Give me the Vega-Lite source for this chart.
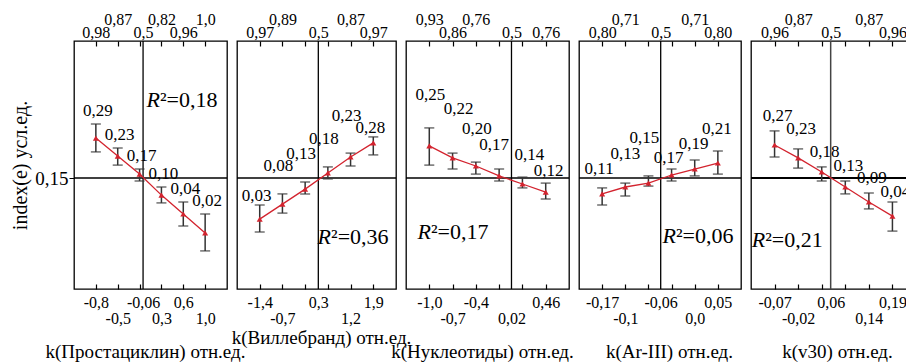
{
"$schema":"https://vega.github.io/schema/vega-lite/v6.json",
"background":"white",
"padding":{"left":10,"top":10,"right":-9,"bottom":0},
"spacing":10,
"bounds":"flush",
"datasets":{
"pts":[
{"panel":"P1","i":1,"v":0.283,"lo":0.237,"hi":0.330,"lab":"0,29"},
{"panel":"P1","i":2,"v":0.223,"lo":0.193,"hi":0.250,"lab":"0,23"},
{"panel":"P1","i":3,"v":0.163,"lo":0.140,"hi":0.180,"lab":"0,17"},
{"panel":"P1","i":4,"v":0.093,"lo":0.067,"hi":0.120,"lab":"0,10"},
{"panel":"P1","i":5,"v":0.030,"lo":-0.010,"hi":0.070,"lab":"0,04"},
{"panel":"P1","i":6,"v":-0.033,"lo":-0.093,"hi":0.030,"lab":"0,02"},
{"panel":"P2","i":1,"v":0.013,"lo":-0.030,"hi":0.060,"lab":"0,03"},
{"panel":"P2","i":2,"v":0.063,"lo":0.033,"hi":0.097,"lab":"0,08"},
{"panel":"P2","i":3,"v":0.113,"lo":0.097,"hi":0.137,"lab":"0,13"},
{"panel":"P2","i":4,"v":0.167,"lo":0.147,"hi":0.187,"lab":"0,18"},
{"panel":"P2","i":5,"v":0.220,"lo":0.190,"hi":0.233,"lab":"0,23"},
{"panel":"P2","i":6,"v":0.267,"lo":0.227,"hi":0.287,"lab":"0,28"},
{"panel":"P3","i":1,"v":0.257,"lo":0.193,"hi":0.317,"lab":"0,25"},
{"panel":"P3","i":2,"v":0.217,"lo":0.180,"hi":0.233,"lab":"0,22"},
{"panel":"P3","i":3,"v":0.190,"lo":0.163,"hi":0.203,"lab":"0,20"},
{"panel":"P3","i":4,"v":0.157,"lo":0.140,"hi":0.180,"lab":"0,17"},
{"panel":"P3","i":5,"v":0.130,"lo":0.117,"hi":0.153,"lab":"0,14"},
{"panel":"P3","i":6,"v":0.103,"lo":0.080,"hi":0.133,"lab":"0,12"},
{"panel":"P4","i":1,"v":0.097,"lo":0.060,"hi":0.117,"lab":"0,11"},
{"panel":"P4","i":2,"v":0.120,"lo":0.090,"hi":0.133,"lab":"0,13"},
{"panel":"P4","i":3,"v":0.133,"lo":0.123,"hi":0.157,"lab":"0,15"},
{"panel":"P4","i":4,"v":0.160,"lo":0.140,"hi":0.180,"lab":"0,17"},
{"panel":"P4","i":5,"v":0.180,"lo":0.157,"hi":0.210,"lab":"0,19"},
{"panel":"P4","i":6,"v":0.200,"lo":0.163,"hi":0.240,"lab":"0,21"},
{"panel":"P5","i":1,"v":0.260,"lo":0.220,"hi":0.307,"lab":"0,27"},
{"panel":"P5","i":2,"v":0.217,"lo":0.183,"hi":0.247,"lab":"0,23"},
{"panel":"P5","i":3,"v":0.170,"lo":0.140,"hi":0.187,"lab":"0,18"},
{"panel":"P5","i":4,"v":0.120,"lo":0.097,"hi":0.140,"lab":"0,13"},
{"panel":"P5","i":5,"v":0.070,"lo":0.047,"hi":0.100,"lab":"0,09"},
{"panel":"P5","i":6,"v":0.023,"lo":-0.027,"hi":0.070,"lab":"0,04"}
],
"refs":[
{"panel":"P1","vx":3.16,"h":0.15,"r2":"0,18"},
{"panel":"P2","vx":3.58,"h":0.15,"r2":"0,36"},
{"panel":"P3","vx":4.53,"h":0.15,"r2":"0,17"},
{"panel":"P4","vx":3.53,"h":0.15,"r2":"0,06"},
{"panel":"P5","vx":3.38,"h":0.15,"r2":"0,21"}
]
},
"hconcat":[
{
"width":153,"height":248,
"resolve":{"axis":{"x":"independent","y":"independent"}},
"layer":[
{"data":{"name":"refs"},"transform":[{"filter":"datum.panel=='P1'"}],"mark":{"type":"rule","color":"#000","strokeWidth":1.3},
"encoding":{"y":{"field":"h","type":"quantitative","scale":{"domain":[-0.22,0.6067],"nice":false,"zero":false},"axis":{"orient":"left","values":[0.15],"labelExpr":"'0,15'","tickSize":5,"ticks":true,"labelPadding":1,"labelFontSize":19,"title":"index(e)  усл.ед.","titleFontSize":20,"titlePadding":4}}}},
{"data":{"name":"refs"},"transform":[{"filter":"datum.panel=='P1'"}],"mark":{"type":"rule","color":"#000","strokeWidth":1.3},
"encoding":{"x":{"field":"vx","type":"quantitative","scale":{"domain":[0,7],"nice":false,"zero":false},"axis":{"orient":"bottom","values":[1,3.16,5],"labelExpr":"datum.value==1?'-0,8':datum.value==3.16?'-0,06':'0,6'","ticks":false,"tickSize":0,"labelPadding":18.5,"labelBaseline":"alphabetic","title":null}}}},
{"data":{"name":"pts"},"transform":[{"filter":"datum.panel=='P1'"}],"mark":{"type":"rule","color":"#333","strokeWidth":1.5},
"encoding":{"x":{"field":"i","type":"quantitative","scale":{"domain":[0,7],"nice":false,"zero":false},"axis":{"orient":"bottom","values":[1,2,3,4,5,6],"offset":-5,"tickSize":5,"tickWidth":1.2,"labels":false,"title":null}},
"y":{"field":"lo","type":"quantitative","scale":{"domain":[-0.22,0.6067],"nice":false,"zero":false},"axis":null},"y2":{"field":"hi"}}},
{"data":{"name":"pts"},"transform":[{"filter":"datum.panel=='P1'"}],"mark":{"type":"tick","orient":"horizontal","size":10,"thickness":1.5,"color":"#333"},
"encoding":{"x":{"field":"i","type":"quantitative","scale":{"domain":[0,7],"nice":false,"zero":false},"axis":{"orient":"top","values":[1,2,3,4,5,6],"offset":-5,"tickSize":5,"tickWidth":1.2,"labels":false,"title":null}},
"y":{"field":"lo","type":"quantitative","scale":{"domain":[-0.22,0.6067],"nice":false,"zero":false},"axis":null}}},
{"data":{"name":"pts"},"transform":[{"filter":"datum.panel=='P1'"}],"mark":{"type":"tick","orient":"horizontal","size":10,"thickness":1.5,"color":"#333"},
"encoding":{"x":{"field":"i","type":"quantitative","scale":{"domain":[0,7],"nice":false,"zero":false},"axis":{"orient":"bottom","values":[2,4,6],"labelExpr":"datum.value==2?'-0,5':datum.value==4?'0,3':'1,0'","ticks":false,"tickSize":0,"labelPadding":34,"labelBaseline":"alphabetic","title":"k(Простациклин) отн.ед.","titlePadding":31,"titleBaseline":"alphabetic","titleX":71}},
"y":{"field":"hi","type":"quantitative","scale":{"domain":[-0.22,0.6067],"nice":false,"zero":false},"axis":null}}},
{"data":{"name":"pts"},"transform":[{"filter":"datum.panel=='P1'"}],"mark":{"type":"line","color":"#d3232e","strokeWidth":1.3},
"encoding":{"x":{"field":"i","type":"quantitative","scale":{"domain":[0,7],"nice":false,"zero":false},"axis":{"orient":"top","values":[2,4,6],"labelExpr":"datum.value==2?'0,87':datum.value==4?'0,82':'1,0'","ticks":false,"tickSize":0,"labelPadding":17,"labelBaseline":"alphabetic","title":null}},
"y":{"field":"v","type":"quantitative","scale":{"domain":[-0.22,0.6067],"nice":false,"zero":false},"axis":null}}},
{"data":{"name":"pts"},"transform":[{"filter":"datum.panel=='P1'"}],"mark":{"type":"point","shape":"triangle-up","filled":true,"size":36,"color":"#d3232e","opacity":1},
"encoding":{"x":{"field":"i","type":"quantitative","scale":{"domain":[0,7],"nice":false,"zero":false},"axis":{"orient":"top","values":[1,3.16,5],"labelExpr":"datum.value==1?'0,98':datum.value==3.16?'0,5':'0,96'","ticks":false,"tickSize":0,"labelPadding":3.5,"labelBaseline":"alphabetic","title":null}},
"y":{"field":"v","type":"quantitative","scale":{"domain":[-0.22,0.6067],"nice":false,"zero":false},"axis":null}}},
{"data":{"name":"pts"},"transform":[{"filter":"datum.panel=='P1'"}],"mark":{"type":"text","fontSize":17,"dx":2,"dy":-13,"align":"center","baseline":"middle"},
"encoding":{"x":{"field":"i","type":"quantitative","scale":{"domain":[0,7],"nice":false,"zero":false},"axis":null},"y":{"field":"hi","type":"quantitative","scale":{"domain":[-0.22,0.6067],"nice":false,"zero":false},"axis":null},"text":{"field":"lab"}}},
{"data":{"name":"refs"},"transform":[{"filter":"datum.panel=='P1'"}],"mark":{"type":"text","fontSize":22,"fontStyle":"italic","align":"right","baseline":"middle"},
"encoding":{"x":{"datum":3.93,"type":"quantitative","scale":{"domain":[0,7],"nice":false,"zero":false},"axis":null},"y":{"datum":0.41,"type":"quantitative","scale":{"domain":[-0.22,0.6067],"nice":false,"zero":false},"axis":null},"text":{"value":"R"}}},
{"data":{"name":"refs"},"transform":[{"filter":"datum.panel=='P1'"}],"mark":{"type":"text","fontSize":22,"align":"left","baseline":"middle"},
"encoding":{"x":{"datum":3.93,"type":"quantitative","scale":{"domain":[0,7],"nice":false,"zero":false},"axis":null},"y":{"datum":0.41,"type":"quantitative","scale":{"domain":[-0.22,0.6067],"nice":false,"zero":false},"axis":null},"text":{"value":"²="}}},
{"data":{"name":"refs"},"transform":[{"filter":"datum.panel=='P1'"}],"mark":{"type":"text","fontSize":22,"align":"left","baseline":"middle","dx":19},
"encoding":{"x":{"datum":3.93,"type":"quantitative","scale":{"domain":[0,7],"nice":false,"zero":false},"axis":null},"y":{"datum":0.41,"type":"quantitative","scale":{"domain":[-0.22,0.6067],"nice":false,"zero":false},"axis":null},"text":{"field":"r2"}}}
]
},
{
"width":159,"height":248,
"resolve":{"axis":{"x":"independent","y":"independent"}},
"layer":[
{"data":{"name":"refs"},"transform":[{"filter":"datum.panel=='P2'"}],"mark":{"type":"rule","color":"#000","strokeWidth":1.3},
"encoding":{"y":{"field":"h","type":"quantitative","scale":{"domain":[-0.22,0.6067],"nice":false,"zero":false},"axis":null}}},
{"data":{"name":"refs"},"transform":[{"filter":"datum.panel=='P2'"}],"mark":{"type":"rule","color":"#000","strokeWidth":1.3},
"encoding":{"x":{"field":"vx","type":"quantitative","scale":{"domain":[0,7],"nice":false,"zero":false},"axis":{"orient":"bottom","values":[1,3.58,6],"labelExpr":"datum.value==1?'-1,4':datum.value==3.58?'0,3':'1,9'","ticks":false,"tickSize":0,"labelPadding":18.5,"labelBaseline":"alphabetic","title":null}}}},
{"data":{"name":"pts"},"transform":[{"filter":"datum.panel=='P2'"}],"mark":{"type":"rule","color":"#333","strokeWidth":1.5},
"encoding":{"x":{"field":"i","type":"quantitative","scale":{"domain":[0,7],"nice":false,"zero":false},"axis":{"orient":"bottom","values":[1,2,3,4,5,6],"offset":-5,"tickSize":5,"tickWidth":1.2,"labels":false,"title":null}},
"y":{"field":"lo","type":"quantitative","scale":{"domain":[-0.22,0.6067],"nice":false,"zero":false},"axis":null},"y2":{"field":"hi"}}},
{"data":{"name":"pts"},"transform":[{"filter":"datum.panel=='P2'"}],"mark":{"type":"tick","orient":"horizontal","size":10,"thickness":1.5,"color":"#333"},
"encoding":{"x":{"field":"i","type":"quantitative","scale":{"domain":[0,7],"nice":false,"zero":false},"axis":{"orient":"top","values":[1,2,3,4,5,6],"offset":-5,"tickSize":5,"tickWidth":1.2,"labels":false,"title":null}},
"y":{"field":"lo","type":"quantitative","scale":{"domain":[-0.22,0.6067],"nice":false,"zero":false},"axis":null}}},
{"data":{"name":"pts"},"transform":[{"filter":"datum.panel=='P2'"}],"mark":{"type":"tick","orient":"horizontal","size":10,"thickness":1.5,"color":"#333"},
"encoding":{"x":{"field":"i","type":"quantitative","scale":{"domain":[0,7],"nice":false,"zero":false},"axis":{"orient":"bottom","values":[2,5],"labelExpr":"datum.value==2?'-0,7':'1,2'","ticks":false,"tickSize":0,"labelPadding":34,"labelBaseline":"alphabetic","title":"k(Виллебранд) отн.ед.","titlePadding":17,"titleBaseline":"alphabetic","titleX":84}},
"y":{"field":"hi","type":"quantitative","scale":{"domain":[-0.22,0.6067],"nice":false,"zero":false},"axis":null}}},
{"data":{"name":"pts"},"transform":[{"filter":"datum.panel=='P2'"}],"mark":{"type":"line","color":"#d3232e","strokeWidth":1.3},
"encoding":{"x":{"field":"i","type":"quantitative","scale":{"domain":[0,7],"nice":false,"zero":false},"axis":{"orient":"top","values":[2,5],"labelExpr":"datum.value==2?'0,89':'0,87'","ticks":false,"tickSize":0,"labelPadding":17,"labelBaseline":"alphabetic","title":null}},
"y":{"field":"v","type":"quantitative","scale":{"domain":[-0.22,0.6067],"nice":false,"zero":false},"axis":null}}},
{"data":{"name":"pts"},"transform":[{"filter":"datum.panel=='P2'"}],"mark":{"type":"point","shape":"triangle-up","filled":true,"size":36,"color":"#d3232e","opacity":1},
"encoding":{"x":{"field":"i","type":"quantitative","scale":{"domain":[0,7],"nice":false,"zero":false},"axis":{"orient":"top","values":[1,3.58,6],"labelExpr":"datum.value==1?'0,97':datum.value==3.58?'0,5':'0,97'","ticks":false,"tickSize":0,"labelPadding":3.5,"labelBaseline":"alphabetic","title":null}},
"y":{"field":"v","type":"quantitative","scale":{"domain":[-0.22,0.6067],"nice":false,"zero":false},"axis":null}}},
{"data":{"name":"pts"},"transform":[{"filter":"datum.panel=='P2' && (datum.i==1 || datum.i==6)"}],"mark":{"type":"text","fontSize":17,"dx":-3,"dy":-9,"align":"center","baseline":"middle"},
"encoding":{"x":{"field":"i","type":"quantitative","scale":{"domain":[0,7],"nice":false,"zero":false},"axis":null},"y":{"field":"hi","type":"quantitative","scale":{"domain":[-0.22,0.6067],"nice":false,"zero":false},"axis":null},"text":{"field":"lab"}}},
{"data":{"name":"pts"},"transform":[{"filter":"datum.panel=='P2' && datum.i>1 && datum.i<5"}],"mark":{"type":"text","fontSize":17,"dx":-4,"dy":-28,"align":"center","baseline":"middle"},
"encoding":{"x":{"field":"i","type":"quantitative","scale":{"domain":[0,7],"nice":false,"zero":false},"axis":null},"y":{"field":"hi","type":"quantitative","scale":{"domain":[-0.22,0.6067],"nice":false,"zero":false},"axis":null},"text":{"field":"lab"}}},
{"data":{"name":"pts"},"transform":[{"filter":"datum.panel=='P2' && datum.i==5"}],"mark":{"type":"text","fontSize":17,"dx":-4,"dy":-37,"align":"center","baseline":"middle"},
"encoding":{"x":{"field":"i","type":"quantitative","scale":{"domain":[0,7],"nice":false,"zero":false},"axis":null},"y":{"field":"hi","type":"quantitative","scale":{"domain":[-0.22,0.6067],"nice":false,"zero":false},"axis":null},"text":{"field":"lab"}}},
{"data":{"name":"refs"},"transform":[{"filter":"datum.panel=='P2'"}],"mark":{"type":"text","fontSize":22,"fontStyle":"italic","align":"right","baseline":"middle"},
"encoding":{"x":{"datum":4.14,"type":"quantitative","scale":{"domain":[0,7],"nice":false,"zero":false},"axis":null},"y":{"datum":-0.047,"type":"quantitative","scale":{"domain":[-0.22,0.6067],"nice":false,"zero":false},"axis":null},"text":{"value":"R"}}},
{"data":{"name":"refs"},"transform":[{"filter":"datum.panel=='P2'"}],"mark":{"type":"text","fontSize":22,"align":"left","baseline":"middle"},
"encoding":{"x":{"datum":4.14,"type":"quantitative","scale":{"domain":[0,7],"nice":false,"zero":false},"axis":null},"y":{"datum":-0.047,"type":"quantitative","scale":{"domain":[-0.22,0.6067],"nice":false,"zero":false},"axis":null},"text":{"value":"²="}}},
{"data":{"name":"refs"},"transform":[{"filter":"datum.panel=='P2'"}],"mark":{"type":"text","fontSize":22,"align":"left","baseline":"middle","dx":19},
"encoding":{"x":{"datum":4.14,"type":"quantitative","scale":{"domain":[0,7],"nice":false,"zero":false},"axis":null},"y":{"datum":-0.047,"type":"quantitative","scale":{"domain":[-0.22,0.6067],"nice":false,"zero":false},"axis":null},"text":{"field":"r2"}}}
]
},
{
"width":163,"height":248,
"resolve":{"axis":{"x":"independent","y":"independent"}},
"layer":[
{"data":{"name":"refs"},"transform":[{"filter":"datum.panel=='P3'"}],"mark":{"type":"rule","color":"#000","strokeWidth":1.3},
"encoding":{"y":{"field":"h","type":"quantitative","scale":{"domain":[-0.22,0.6067],"nice":false,"zero":false},"axis":null}}},
{"data":{"name":"refs"},"transform":[{"filter":"datum.panel=='P3'"}],"mark":{"type":"rule","color":"#000","strokeWidth":1.3},
"encoding":{"x":{"field":"vx","type":"quantitative","scale":{"domain":[0,7],"nice":false,"zero":false},"axis":{"orient":"bottom","values":[1,3,6],"labelExpr":"datum.value==1?'-1,0':datum.value==3?'-0,4':'0,46'","ticks":false,"tickSize":0,"labelPadding":18.5,"labelBaseline":"alphabetic","title":null}}}},
{"data":{"name":"pts"},"transform":[{"filter":"datum.panel=='P3'"}],"mark":{"type":"rule","color":"#333","strokeWidth":1.5},
"encoding":{"x":{"field":"i","type":"quantitative","scale":{"domain":[0,7],"nice":false,"zero":false},"axis":{"orient":"bottom","values":[1,2,3,4,5,6],"offset":-5,"tickSize":5,"tickWidth":1.2,"labels":false,"title":null}},
"y":{"field":"lo","type":"quantitative","scale":{"domain":[-0.22,0.6067],"nice":false,"zero":false},"axis":null},"y2":{"field":"hi"}}},
{"data":{"name":"pts"},"transform":[{"filter":"datum.panel=='P3'"}],"mark":{"type":"tick","orient":"horizontal","size":10,"thickness":1.5,"color":"#333"},
"encoding":{"x":{"field":"i","type":"quantitative","scale":{"domain":[0,7],"nice":false,"zero":false},"axis":{"orient":"top","values":[1,2,3,4,5,6],"offset":-5,"tickSize":5,"tickWidth":1.2,"labels":false,"title":null}},
"y":{"field":"lo","type":"quantitative","scale":{"domain":[-0.22,0.6067],"nice":false,"zero":false},"axis":null}}},
{"data":{"name":"pts"},"transform":[{"filter":"datum.panel=='P3'"}],"mark":{"type":"tick","orient":"horizontal","size":10,"thickness":1.5,"color":"#333"},
"encoding":{"x":{"field":"i","type":"quantitative","scale":{"domain":[0,7],"nice":false,"zero":false},"axis":{"orient":"bottom","values":[2,4.53],"labelExpr":"datum.value==2?'-0,7':'0,02'","ticks":false,"tickSize":0,"labelPadding":34,"labelBaseline":"alphabetic","title":"k(Нуклеотиды) отн.ед.","titlePadding":31,"titleBaseline":"alphabetic","titleX":76}},
"y":{"field":"hi","type":"quantitative","scale":{"domain":[-0.22,0.6067],"nice":false,"zero":false},"axis":null}}},
{"data":{"name":"pts"},"transform":[{"filter":"datum.panel=='P3'"}],"mark":{"type":"line","color":"#d3232e","strokeWidth":1.3},
"encoding":{"x":{"field":"i","type":"quantitative","scale":{"domain":[0,7],"nice":false,"zero":false},"axis":{"orient":"top","values":[1,3],"labelExpr":"datum.value==1?'0,93':'0,76'","ticks":false,"tickSize":0,"labelPadding":17,"labelBaseline":"alphabetic","title":null}},
"y":{"field":"v","type":"quantitative","scale":{"domain":[-0.22,0.6067],"nice":false,"zero":false},"axis":null}}},
{"data":{"name":"pts"},"transform":[{"filter":"datum.panel=='P3'"}],"mark":{"type":"point","shape":"triangle-up","filled":true,"size":36,"color":"#d3232e","opacity":1},
"encoding":{"x":{"field":"i","type":"quantitative","scale":{"domain":[0,7],"nice":false,"zero":false},"axis":{"orient":"top","values":[2,4.53,6],"labelExpr":"datum.value==2?'0,86':datum.value==4.53?'0,5':'0,76'","ticks":false,"tickSize":0,"labelPadding":3.5,"labelBaseline":"alphabetic","title":null}},
"y":{"field":"v","type":"quantitative","scale":{"domain":[-0.22,0.6067],"nice":false,"zero":false},"axis":null}}},
{"data":{"name":"pts"},"transform":[{"filter":"datum.panel=='P3' && (datum.i==1 || datum.i==3)"}],"mark":{"type":"text","fontSize":17,"dx":1,"dy":-33,"align":"center","baseline":"middle"},
"encoding":{"x":{"field":"i","type":"quantitative","scale":{"domain":[0,7],"nice":false,"zero":false},"axis":null},"y":{"field":"hi","type":"quantitative","scale":{"domain":[-0.22,0.6067],"nice":false,"zero":false},"axis":null},"text":{"field":"lab"}}},
{"data":{"name":"pts"},"transform":[{"filter":"datum.panel=='P3' && datum.i==2"}],"mark":{"type":"text","fontSize":17,"dx":6,"dy":-44,"align":"center","baseline":"middle"},
"encoding":{"x":{"field":"i","type":"quantitative","scale":{"domain":[0,7],"nice":false,"zero":false},"axis":null},"y":{"field":"hi","type":"quantitative","scale":{"domain":[-0.22,0.6067],"nice":false,"zero":false},"axis":null},"text":{"field":"lab"}}},
{"data":{"name":"pts"},"transform":[{"filter":"datum.panel=='P3' && datum.i==4"}],"mark":{"type":"text","fontSize":17,"dx":-5,"dy":-24,"align":"center","baseline":"middle"},
"encoding":{"x":{"field":"i","type":"quantitative","scale":{"domain":[0,7],"nice":false,"zero":false},"axis":null},"y":{"field":"hi","type":"quantitative","scale":{"domain":[-0.22,0.6067],"nice":false,"zero":false},"axis":null},"text":{"field":"lab"}}},
{"data":{"name":"pts"},"transform":[{"filter":"datum.panel=='P3' && datum.i==5"}],"mark":{"type":"text","fontSize":17,"dx":7,"dy":-22,"align":"center","baseline":"middle"},
"encoding":{"x":{"field":"i","type":"quantitative","scale":{"domain":[0,7],"nice":false,"zero":false},"axis":null},"y":{"field":"hi","type":"quantitative","scale":{"domain":[-0.22,0.6067],"nice":false,"zero":false},"axis":null},"text":{"field":"lab"}}},
{"data":{"name":"pts"},"transform":[{"filter":"datum.panel=='P3' && datum.i==6"}],"mark":{"type":"text","fontSize":17,"dx":3,"dy":-12,"align":"center","baseline":"middle"},
"encoding":{"x":{"field":"i","type":"quantitative","scale":{"domain":[0,7],"nice":false,"zero":false},"axis":null},"y":{"field":"hi","type":"quantitative","scale":{"domain":[-0.22,0.6067],"nice":false,"zero":false},"axis":null},"text":{"field":"lab"}}},
{"data":{"name":"refs"},"transform":[{"filter":"datum.panel=='P3'"}],"mark":{"type":"text","fontSize":22,"fontStyle":"italic","align":"right","baseline":"middle"},
"encoding":{"x":{"datum":1.07,"type":"quantitative","scale":{"domain":[0,7],"nice":false,"zero":false},"axis":null},"y":{"datum":-0.03,"type":"quantitative","scale":{"domain":[-0.22,0.6067],"nice":false,"zero":false},"axis":null},"text":{"value":"R"}}},
{"data":{"name":"refs"},"transform":[{"filter":"datum.panel=='P3'"}],"mark":{"type":"text","fontSize":22,"align":"left","baseline":"middle"},
"encoding":{"x":{"datum":1.07,"type":"quantitative","scale":{"domain":[0,7],"nice":false,"zero":false},"axis":null},"y":{"datum":-0.03,"type":"quantitative","scale":{"domain":[-0.22,0.6067],"nice":false,"zero":false},"axis":null},"text":{"value":"²="}}},
{"data":{"name":"refs"},"transform":[{"filter":"datum.panel=='P3'"}],"mark":{"type":"text","fontSize":22,"align":"left","baseline":"middle","dx":19},
"encoding":{"x":{"datum":1.07,"type":"quantitative","scale":{"domain":[0,7],"nice":false,"zero":false},"axis":null},"y":{"datum":-0.03,"type":"quantitative","scale":{"domain":[-0.22,0.6067],"nice":false,"zero":false},"axis":null},"text":{"field":"r2"}}}
]
},
{
"width":162,"height":248,
"resolve":{"axis":{"x":"independent","y":"independent"}},
"layer":[
{"data":{"name":"refs"},"transform":[{"filter":"datum.panel=='P4'"}],"mark":{"type":"rule","color":"#000","strokeWidth":1.3},
"encoding":{"y":{"field":"h","type":"quantitative","scale":{"domain":[-0.22,0.6067],"nice":false,"zero":false},"axis":null}}},
{"data":{"name":"refs"},"transform":[{"filter":"datum.panel=='P4'"}],"mark":{"type":"rule","color":"#000","strokeWidth":1.3},
"encoding":{"x":{"field":"vx","type":"quantitative","scale":{"domain":[0,7],"nice":false,"zero":false},"axis":{"orient":"bottom","values":[1,3.53,6],"labelExpr":"datum.value==1?'-0,17':datum.value==3.53?'-0,06':'0,05'","ticks":false,"tickSize":0,"labelPadding":18.5,"labelBaseline":"alphabetic","title":null}}}},
{"data":{"name":"pts"},"transform":[{"filter":"datum.panel=='P4'"}],"mark":{"type":"rule","color":"#333","strokeWidth":1.5},
"encoding":{"x":{"field":"i","type":"quantitative","scale":{"domain":[0,7],"nice":false,"zero":false},"axis":{"orient":"bottom","values":[1,2,3,4,5,6],"offset":-5,"tickSize":5,"tickWidth":1.2,"labels":false,"title":null}},
"y":{"field":"lo","type":"quantitative","scale":{"domain":[-0.22,0.6067],"nice":false,"zero":false},"axis":null},"y2":{"field":"hi"}}},
{"data":{"name":"pts"},"transform":[{"filter":"datum.panel=='P4'"}],"mark":{"type":"tick","orient":"horizontal","size":10,"thickness":1.5,"color":"#333"},
"encoding":{"x":{"field":"i","type":"quantitative","scale":{"domain":[0,7],"nice":false,"zero":false},"axis":{"orient":"top","values":[1,2,3,4,5,6],"offset":-5,"tickSize":5,"tickWidth":1.2,"labels":false,"title":null}},
"y":{"field":"lo","type":"quantitative","scale":{"domain":[-0.22,0.6067],"nice":false,"zero":false},"axis":null}}},
{"data":{"name":"pts"},"transform":[{"filter":"datum.panel=='P4'"}],"mark":{"type":"tick","orient":"horizontal","size":10,"thickness":1.5,"color":"#333"},
"encoding":{"x":{"field":"i","type":"quantitative","scale":{"domain":[0,7],"nice":false,"zero":false},"axis":{"orient":"bottom","values":[2,5],"labelExpr":"datum.value==2?'-0,1':'0,0'","ticks":false,"tickSize":0,"labelPadding":34,"labelBaseline":"alphabetic","title":"k(Ar-III) отн.ед.","titlePadding":31,"titleBaseline":"alphabetic","titleX":90}},
"y":{"field":"hi","type":"quantitative","scale":{"domain":[-0.22,0.6067],"nice":false,"zero":false},"axis":null}}},
{"data":{"name":"pts"},"transform":[{"filter":"datum.panel=='P4'"}],"mark":{"type":"line","color":"#d3232e","strokeWidth":1.3},
"encoding":{"x":{"field":"i","type":"quantitative","scale":{"domain":[0,7],"nice":false,"zero":false},"axis":{"orient":"top","values":[2,5],"labelExpr":"'0,71'","ticks":false,"tickSize":0,"labelPadding":17,"labelBaseline":"alphabetic","title":null}},
"y":{"field":"v","type":"quantitative","scale":{"domain":[-0.22,0.6067],"nice":false,"zero":false},"axis":null}}},
{"data":{"name":"pts"},"transform":[{"filter":"datum.panel=='P4'"}],"mark":{"type":"point","shape":"triangle-up","filled":true,"size":36,"color":"#d3232e","opacity":1},
"encoding":{"x":{"field":"i","type":"quantitative","scale":{"domain":[0,7],"nice":false,"zero":false},"axis":{"orient":"top","values":[1,3.53,6],"labelExpr":"datum.value==3.53?'0,5':'0,80'","ticks":false,"tickSize":0,"labelPadding":3.5,"labelBaseline":"alphabetic","title":null}},
"y":{"field":"v","type":"quantitative","scale":{"domain":[-0.22,0.6067],"nice":false,"zero":false},"axis":null}}},
{"data":{"name":"pts"},"transform":[{"filter":"datum.panel=='P4' && datum.i==1"}],"mark":{"type":"text","fontSize":17,"dx":-3,"dy":-19,"align":"center","baseline":"middle"},
"encoding":{"x":{"field":"i","type":"quantitative","scale":{"domain":[0,7],"nice":false,"zero":false},"axis":null},"y":{"field":"hi","type":"quantitative","scale":{"domain":[-0.22,0.6067],"nice":false,"zero":false},"axis":null},"text":{"field":"lab"}}},
{"data":{"name":"pts"},"transform":[{"filter":"datum.panel=='P4' && datum.i==2"}],"mark":{"type":"text","fontSize":17,"dx":0,"dy":-29,"align":"center","baseline":"middle"},
"encoding":{"x":{"field":"i","type":"quantitative","scale":{"domain":[0,7],"nice":false,"zero":false},"axis":null},"y":{"field":"hi","type":"quantitative","scale":{"domain":[-0.22,0.6067],"nice":false,"zero":false},"axis":null},"text":{"field":"lab"}}},
{"data":{"name":"pts"},"transform":[{"filter":"datum.panel=='P4' && datum.i==3"}],"mark":{"type":"text","fontSize":17,"dx":-4,"dy":-38,"align":"center","baseline":"middle"},
"encoding":{"x":{"field":"i","type":"quantitative","scale":{"domain":[0,7],"nice":false,"zero":false},"axis":null},"y":{"field":"hi","type":"quantitative","scale":{"domain":[-0.22,0.6067],"nice":false,"zero":false},"axis":null},"text":{"field":"lab"}}},
{"data":{"name":"pts"},"transform":[{"filter":"datum.panel=='P4' && datum.i==4"}],"mark":{"type":"text","fontSize":17,"dx":-3,"dy":-11,"align":"center","baseline":"middle"},
"encoding":{"x":{"field":"i","type":"quantitative","scale":{"domain":[0,7],"nice":false,"zero":false},"axis":null},"y":{"field":"hi","type":"quantitative","scale":{"domain":[-0.22,0.6067],"nice":false,"zero":false},"axis":null},"text":{"field":"lab"}}},
{"data":{"name":"pts"},"transform":[{"filter":"datum.panel=='P4' && datum.i==5"}],"mark":{"type":"text","fontSize":17,"dx":-1,"dy":-16,"align":"center","baseline":"middle"},
"encoding":{"x":{"field":"i","type":"quantitative","scale":{"domain":[0,7],"nice":false,"zero":false},"axis":null},"y":{"field":"hi","type":"quantitative","scale":{"domain":[-0.22,0.6067],"nice":false,"zero":false},"axis":null},"text":{"field":"lab"}}},
{"data":{"name":"pts"},"transform":[{"filter":"datum.panel=='P4' && datum.i==6"}],"mark":{"type":"text","fontSize":17,"dx":-1,"dy":-22,"align":"center","baseline":"middle"},
"encoding":{"x":{"field":"i","type":"quantitative","scale":{"domain":[0,7],"nice":false,"zero":false},"axis":null},"y":{"field":"hi","type":"quantitative","scale":{"domain":[-0.22,0.6067],"nice":false,"zero":false},"axis":null},"text":{"field":"lab"}}},
{"data":{"name":"refs"},"transform":[{"filter":"datum.panel=='P4'"}],"mark":{"type":"text","fontSize":22,"fontStyle":"italic","align":"right","baseline":"middle"},
"encoding":{"x":{"datum":4.19,"type":"quantitative","scale":{"domain":[0,7],"nice":false,"zero":false},"axis":null},"y":{"datum":-0.043,"type":"quantitative","scale":{"domain":[-0.22,0.6067],"nice":false,"zero":false},"axis":null},"text":{"value":"R"}}},
{"data":{"name":"refs"},"transform":[{"filter":"datum.panel=='P4'"}],"mark":{"type":"text","fontSize":22,"align":"left","baseline":"middle"},
"encoding":{"x":{"datum":4.19,"type":"quantitative","scale":{"domain":[0,7],"nice":false,"zero":false},"axis":null},"y":{"datum":-0.043,"type":"quantitative","scale":{"domain":[-0.22,0.6067],"nice":false,"zero":false},"axis":null},"text":{"value":"²="}}},
{"data":{"name":"refs"},"transform":[{"filter":"datum.panel=='P4'"}],"mark":{"type":"text","fontSize":22,"align":"left","baseline":"middle","dx":19},
"encoding":{"x":{"datum":4.19,"type":"quantitative","scale":{"domain":[0,7],"nice":false,"zero":false},"axis":null},"y":{"datum":-0.043,"type":"quantitative","scale":{"domain":[-0.22,0.6067],"nice":false,"zero":false},"axis":null},"text":{"field":"r2"}}}
]
},
{
"width":165,"height":248,
"resolve":{"axis":{"x":"independent","y":"independent"}},
"layer":[
{"data":{"name":"refs"},"transform":[{"filter":"datum.panel=='P5'"}],"mark":{"type":"rule","color":"#000","strokeWidth":2},
"encoding":{"y":{"field":"h","type":"quantitative","scale":{"domain":[-0.22,0.6067],"nice":false,"zero":false},"axis":null}}},
{"data":{"name":"refs"},"transform":[{"filter":"datum.panel=='P5'"}],"mark":{"type":"rule","color":"#444","strokeWidth":1.5},
"encoding":{"x":{"field":"vx","type":"quantitative","scale":{"domain":[0,7],"nice":false,"zero":false},"axis":{"orient":"bottom","values":[1,3.38,6],"labelExpr":"datum.value==1?'-0,07':datum.value==3.38?'0,06':'0,19'","ticks":false,"tickSize":0,"labelPadding":18.5,"labelBaseline":"alphabetic","title":null}}}},
{"data":{"name":"pts"},"transform":[{"filter":"datum.panel=='P5'"}],"mark":{"type":"rule","color":"#333","strokeWidth":1.5},
"encoding":{"x":{"field":"i","type":"quantitative","scale":{"domain":[0,7],"nice":false,"zero":false},"axis":{"orient":"bottom","values":[1,2,3,4,5,6],"offset":-5,"tickSize":5,"tickWidth":1.2,"labels":false,"title":null}},
"y":{"field":"lo","type":"quantitative","scale":{"domain":[-0.22,0.6067],"nice":false,"zero":false},"axis":null},"y2":{"field":"hi"}}},
{"data":{"name":"pts"},"transform":[{"filter":"datum.panel=='P5'"}],"mark":{"type":"tick","orient":"horizontal","size":10,"thickness":1.5,"color":"#333"},
"encoding":{"x":{"field":"i","type":"quantitative","scale":{"domain":[0,7],"nice":false,"zero":false},"axis":{"orient":"top","values":[1,2,3,4,5,6],"offset":-5,"tickSize":5,"tickWidth":1.2,"labels":false,"title":null}},
"y":{"field":"lo","type":"quantitative","scale":{"domain":[-0.22,0.6067],"nice":false,"zero":false},"axis":null}}},
{"data":{"name":"pts"},"transform":[{"filter":"datum.panel=='P5'"}],"mark":{"type":"tick","orient":"horizontal","size":10,"thickness":1.5,"color":"#333"},
"encoding":{"x":{"field":"i","type":"quantitative","scale":{"domain":[0,7],"nice":false,"zero":false},"axis":{"orient":"bottom","values":[2,5],"labelExpr":"datum.value==2?'-0,02':'0,14'","ticks":false,"tickSize":0,"labelPadding":34,"labelBaseline":"alphabetic","title":"k(v30) отн.ед.","titlePadding":31,"titleBaseline":"alphabetic","titleX":86}},
"y":{"field":"hi","type":"quantitative","scale":{"domain":[-0.22,0.6067],"nice":false,"zero":false},"axis":null}}},
{"data":{"name":"pts"},"transform":[{"filter":"datum.panel=='P5'"}],"mark":{"type":"line","color":"#d3232e","strokeWidth":1.3},
"encoding":{"x":{"field":"i","type":"quantitative","scale":{"domain":[0,7],"nice":false,"zero":false},"axis":{"orient":"top","values":[2,5],"labelExpr":"'0,87'","ticks":false,"tickSize":0,"labelPadding":17,"labelBaseline":"alphabetic","title":null}},
"y":{"field":"v","type":"quantitative","scale":{"domain":[-0.22,0.6067],"nice":false,"zero":false},"axis":null}}},
{"data":{"name":"pts"},"transform":[{"filter":"datum.panel=='P5'"}],"mark":{"type":"point","shape":"triangle-up","filled":true,"size":36,"color":"#d3232e","opacity":1},
"encoding":{"x":{"field":"i","type":"quantitative","scale":{"domain":[0,7],"nice":false,"zero":false},"axis":{"orient":"top","values":[1,3.38,6],"labelExpr":"datum.value==3.38?'0,5':'0,96'","ticks":false,"tickSize":0,"labelPadding":3.5,"labelBaseline":"alphabetic","title":null}},
"y":{"field":"v","type":"quantitative","scale":{"domain":[-0.22,0.6067],"nice":false,"zero":false},"axis":null}}},
{"data":{"name":"pts"},"transform":[{"filter":"datum.panel=='P5' && datum.i!=2 && datum.i!=6"}],"mark":{"type":"text","fontSize":17,"dx":3,"dy":-15,"align":"center","baseline":"middle"},
"encoding":{"x":{"field":"i","type":"quantitative","scale":{"domain":[0,7],"nice":false,"zero":false},"axis":null},"y":{"field":"hi","type":"quantitative","scale":{"domain":[-0.22,0.6067],"nice":false,"zero":false},"axis":null},"text":{"field":"lab"}}},
{"data":{"name":"pts"},"transform":[{"filter":"datum.panel=='P5' && datum.i==2"}],"mark":{"type":"text","fontSize":17,"dx":3,"dy":-20,"align":"center","baseline":"middle"},
"encoding":{"x":{"field":"i","type":"quantitative","scale":{"domain":[0,7],"nice":false,"zero":false},"axis":null},"y":{"field":"hi","type":"quantitative","scale":{"domain":[-0.22,0.6067],"nice":false,"zero":false},"axis":null},"text":{"field":"lab"}}},
{"data":{"name":"pts"},"transform":[{"filter":"datum.panel=='P5' && datum.i==6"}],"mark":{"type":"text","fontSize":17,"dx":3,"dy":-10,"align":"center","baseline":"middle"},
"encoding":{"x":{"field":"i","type":"quantitative","scale":{"domain":[0,7],"nice":false,"zero":false},"axis":null},"y":{"field":"hi","type":"quantitative","scale":{"domain":[-0.22,0.6067],"nice":false,"zero":false},"axis":null},"text":{"field":"lab"}}},
{"data":{"name":"refs"},"transform":[{"filter":"datum.panel=='P5'"}],"mark":{"type":"text","fontSize":22,"fontStyle":"italic","align":"right","baseline":"middle"},
"encoding":{"x":{"datum":0.6,"type":"quantitative","scale":{"domain":[0,7],"nice":false,"zero":false},"axis":null},"y":{"datum":-0.057,"type":"quantitative","scale":{"domain":[-0.22,0.6067],"nice":false,"zero":false},"axis":null},"text":{"value":"R"}}},
{"data":{"name":"refs"},"transform":[{"filter":"datum.panel=='P5'"}],"mark":{"type":"text","fontSize":22,"align":"left","baseline":"middle"},
"encoding":{"x":{"datum":0.6,"type":"quantitative","scale":{"domain":[0,7],"nice":false,"zero":false},"axis":null},"y":{"datum":-0.057,"type":"quantitative","scale":{"domain":[-0.22,0.6067],"nice":false,"zero":false},"axis":null},"text":{"value":"²="}}},
{"data":{"name":"refs"},"transform":[{"filter":"datum.panel=='P5'"}],"mark":{"type":"text","fontSize":22,"align":"left","baseline":"middle","dx":19},
"encoding":{"x":{"datum":0.6,"type":"quantitative","scale":{"domain":[0,7],"nice":false,"zero":false},"axis":null},"y":{"datum":-0.057,"type":"quantitative","scale":{"domain":[-0.22,0.6067],"nice":false,"zero":false},"axis":null},"text":{"field":"r2"}}}
]
}
],
"config":{
"font":"Liberation Serif, Times New Roman, DejaVu Serif, serif",
"view":{"stroke":"#000","strokeWidth":1.3},
"axis":{"grid":false,"domain":false,"labelFont":"Liberation Serif, Times New Roman, DejaVu Serif, serif","titleFont":"Liberation Serif, Times New Roman, DejaVu Serif, serif","labelFontSize":16,"titleFontSize":19,"titleFontWeight":"normal","labelColor":"#000","titleColor":"#000","tickColor":"#000","labelFlush":false,"labelOverlap":false,"labelBound":false},
"text":{"font":"Liberation Serif, Times New Roman, DejaVu Serif, serif","color":"#000"}
}
}
